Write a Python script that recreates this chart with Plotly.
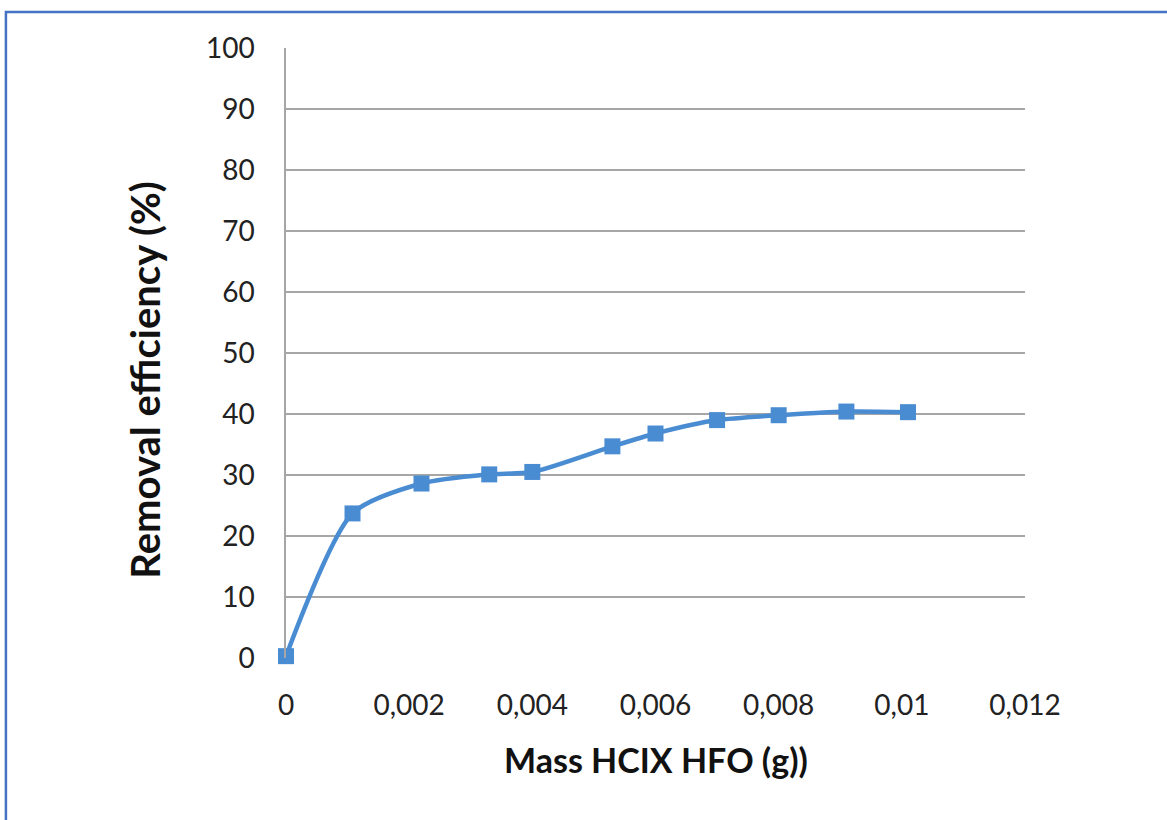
import plotly.graph_objects as go

# Adsorbent mass (g) and corresponding removal efficiency (%)
mass_g = [0, 0.00108, 0.0022, 0.0033, 0.004, 0.0053, 0.006, 0.007, 0.008, 0.0091, 0.0101]
removal_pct = [0.3, 23.7, 28.6, 30.1, 30.5, 34.7, 36.8, 39.0, 39.8, 40.4, 40.3]

x_tick_vals = [0, 0.002, 0.004, 0.006, 0.008, 0.01, 0.012]
x_tick_text = ["0", "0,002", "0,004", "0,006", "0,008", "0,01", "0,012"]
y_tick_vals = [0, 10, 20, 30, 40, 50, 60, 70, 80, 90, 100]

x_title = "Mass HCIX HFO (g))"
y_title = "Removal efficiency (%)"

LINE_BLUE = "#4A8CD2"
GRID = "#A6A6A6"
FONT = "Lato, 'Open Sans', sans-serif"
TICK_COLOR = "#222222"

fig = go.Figure()
fig.add_trace(go.Scatter(
    x=mass_g,
    y=removal_pct,
    mode="lines+markers",
    line=dict(color=LINE_BLUE, width=4.5, shape="spline", smoothing=0.7),
    marker=dict(symbol="square", size=16, color=LINE_BLUE),
    cliponaxis=False,
    showlegend=False,
))

fig.update_layout(
    width=1167,
    height=820,
    margin=dict(l=286, r=142, t=48, b=162),
    paper_bgcolor="white",
    plot_bgcolor="white",
    font=dict(family=FONT, color=TICK_COLOR),
    xaxis=dict(
        range=[0, 0.012],
        tickvals=x_tick_vals,
        ticktext=x_tick_text,
        showgrid=False,
        zeroline=False,
        showline=False,
        ticks="",
        ticklabelstandoff=28,
        tickfont=dict(size=28, family=FONT, color=TICK_COLOR),
    ),
    yaxis=dict(
        range=[0, 100],
        tickvals=y_tick_vals,
        showgrid=True,
        gridcolor=GRID,
        gridwidth=1.5,
        zeroline=False,
        showline=True,
        linecolor=GRID,
        linewidth=1.5,
        ticks="",
        ticklabelstandoff=24,
        tickfont=dict(size=28, family=FONT, color=TICK_COLOR),
    ),
    annotations=[
        dict(text=f"<b>{x_title}</b>", xref="paper", yref="paper",
             x=0.5, y=-0.167, xanchor="center", yanchor="middle",
             showarrow=False, font=dict(size=34, family=FONT, color="#111111")),
        dict(text=f"<b>{y_title}</b>", xref="paper", yref="paper",
             x=-0.191, y=0.456, xanchor="center", yanchor="middle", textangle=-90,
             showarrow=False, font=dict(size=40, family=FONT, color="#111111")),
    ],
    shapes=[
        # chart frame
        dict(type="rect", xref="paper", yref="paper",
             x0=-0.379, x1=1.4, y0=-0.5, y1=1.059,
             line=dict(color="#4472C4", width=2.5), fillcolor="rgba(0,0,0,0)"),
    ],
)

fig.write_html("out.html")
